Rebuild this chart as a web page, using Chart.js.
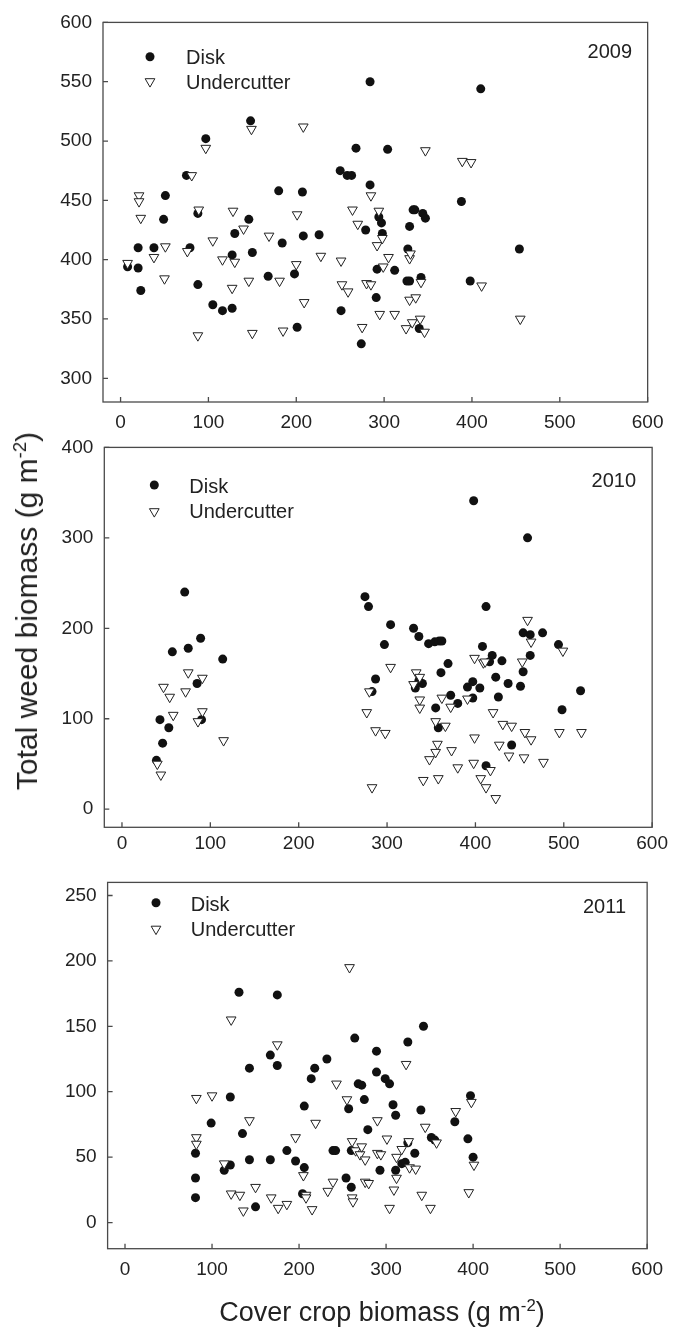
<!DOCTYPE html>
<html><head><meta charset="utf-8">
<script src="https://cdn.jsdelivr.net/npm/chart.js@4.4.1/dist/chart.umd.min.js"></script>
<style>
html,body{margin:0;padding:0;background:#fff;}
body{width:673px;height:1330px;position:relative;overflow:hidden;font-family:"Liberation Sans",Arial,Helvetica,sans-serif;color:#222;}
.panel{position:absolute;left:0;width:673px;}
canvas{display:block;}
.atitle{position:absolute;white-space:nowrap;font-size:27px;line-height:27px;color:#222;z-index:5;}
.atitle .sup{font-size:0.62em;position:relative;top:-0.58em;}
#ytitle{font-size:30px;line-height:30px;}
</style></head><body>
<div class="panel" style="top:0;height:440px"><canvas id="c1" width="673" height="440"></canvas></div>
<div class="panel" style="top:425px;height:455px"><canvas id="c2" width="673" height="455"></canvas></div>
<div class="panel" style="top:860px;height:470px"><canvas id="c3" width="673" height="470"></canvas></div>
<div id="ytitle" class="atitle" style="left:28.5px;top:611px;transform:translate(-50%,-50%) rotate(-90deg);">Total weed biomass (g m<span class="sup">-2</span>)</div>
<div id="xtitle" class="atitle" style="left:382px;top:1299px;transform:translateX(-50%);">Cover crop biomass (g m<span class="sup">-2</span>)</div>
<script>
// ---------------- data ----------------
const xTicks = [0,100,200,300,400,500,600];
const yTicks2009 = [300,350,400,450,500,550,600];
const yTicks2010 = [0,100,200,300,400];
const yTicks2011 = [0,50,100,150,200,250];
const seriesNames = ['Disk','Undercutter'];
const years = ['2009','2010','2011'];

const disk2009 = [[8,394],[20,410],[20,393],[23,374],[38,410],[49,434],[51,454],[75,471],[79,410],[88,439],[88,379],[97,502],[105,362],[116,357],[127,359],[127,404],[130,422],[146,434],[148,517],[150,406],[168,386],[180,458],[184,414],[198,388],[201,343],[207,457],[208,420],[226,421],[250,475],[251,357],[258,471],[263,471],[268,494],[274,329],[279,425],[284,550],[284,463],[291,368],[292,392],[294,436],[297,431],[298,422],[304,493],[312,391],[326,382],[329,382],[327,409],[329,428],[333,442],[335,442],[340,342],[342,385],[344,439],[347,435],[388,449],[398,382],[410,544],[454,409]];
const und2009 = [[8,397],[21,454],[21,449],[23,435],[38,402],[50,384],[51,411],[76,407],[81,471],[88,336],[89,442],[97,494],[105,416],[116,400],[127,376],[128,441],[130,398],[140,426],[146,382],[149,510],[150,338],[169,420],[181,382],[185,340],[200,396],[201,438],[208,512],[209,364],[228,403],[251,399],[252,379],[259,373],[264,442],[270,430],[275,343],[280,380],[285,379],[285,454],[292,412],[294,441],[295,354],[298,418],[299,394],[305,402],[312,354],[325,342],[329,366],[329,401],[330,405],[332,347],[336,368],[341,350],[342,381],[346,339],[347,492],[389,483],[399,482],[411,378],[455,350]];

const disk2010 = [[39,54],[43,99],[46,73],[53,90],[57,174],[71,240],[75,178],[85,139],[89,189],[90,99],[114,166],[275,235],[279,224],[283,130],[287,144],[297,182],[304,204],[330,200],[336,191],[332,134],[336,142],[340,139],[347,183],[354,185],[359,186],[362,186],[355,112],[358,90],[361,151],[369,161],[372,126],[380,117],[391,135],[397,141],[397,123],[398,341],[405,134],[408,180],[412,224],[412,48],[416,163],[419,170],[423,146],[426,124],[430,164],[437,139],[441,71],[451,136],[454,152],[454,195],[459,300],[462,193],[462,170],[476,195],[494,182],[498,110],[519,131]];
const und2010 = [[40,50],[44,38],[47,135],[54,124],[58,104],[72,130],[75,151],[86,97],[91,145],[91,108],[115,76],[277,107],[280,130],[283,24],[287,87],[298,84],[304,157],[330,138],[333,151],[337,146],[337,121],[337,112],[341,32],[348,55],[355,63],[355,97],[357,72],[358,34],[362,123],[366,92],[372,113],[373,65],[380,46],[391,122],[398,51],[399,167],[399,79],[406,34],[409,162],[411,163],[412,24],[417,43],[420,107],[423,12],[427,71],[431,94],[438,59],[441,92],[453,163],[455,57],[456,85],[459,209],[463,185],[463,77],[477,52],[495,85],[499,175],[520,85]];

const disk2011 = [[81,53],[81,34],[81,19],[99,76],[114,40],[121,96],[121,44],[131,176],[135,68],[143,118],[143,48],[150,12],[167,128],[167,48],[175,174],[175,120],[186,55],[196,47],[204,22],[206,89],[206,42],[214,110],[218,118],[232,125],[239,55],[242,55],[254,34],[257,87],[260,55],[260,27],[264,141],[268,106],[272,105],[275,94],[279,71],[289,131],[289,115],[293,40],[299,110],[304,106],[308,90],[311,82],[311,40],[318,45],[322,46],[325,138],[325,61],[333,53],[340,86],[343,150],[352,65],[356,63],[379,77],[394,64],[397,97],[400,50]];
const und2011 = [[82,95],[82,65],[82,60],[100,97],[114,45],[122,155],[122,22],[132,21],[136,9],[143,78],[150,27],[168,19],[175,136],[176,11],[186,14],[196,65],[205,36],[208,21],[208,19],[215,10],[219,76],[233,24],[239,31],[243,106],[255,94],[258,195],[261,62],[261,19],[262,16],[265,55],[270,52],[272,58],[276,48],[276,31],[280,30],[290,78],[290,53],[294,52],[301,64],[304,11],[309,25],[312,50],[312,34],[318,56],[323,121],[326,62],[327,42],[334,41],[341,21],[345,73],[351,11],[358,61],[380,85],[395,23],[398,92],[401,44]];

// ---------------- drawing ----------------
const FONT = '"Liberation Sans", Arial, Helvetica, sans-serif';
const INK = '#222';
const FRAME = '#4a4a4a';

const framePlugin = {
  id: 'frameTicks',
  afterDraw(chart) {
    const ctx = chart.ctx, a = chart.chartArea;
    const xs = chart.scales.x, ys = chart.scales.y;
    ctx.save();
    ctx.strokeStyle = FRAME;
    ctx.lineWidth = 1.3;
    ctx.strokeRect(a.left, a.top, a.right - a.left, a.bottom - a.top);
    ctx.beginPath();
    xs.ticks.forEach(t => {
      const p = xs.getPixelForValue(t.value);
      ctx.moveTo(p, a.bottom); ctx.lineTo(p, a.bottom - 5);
    });
    ys.ticks.forEach(t => {
      const p = ys.getPixelForValue(t.value);
      ctx.moveTo(a.left, p); ctx.lineTo(a.left + 5, p);
    });
    ctx.stroke();
    ctx.restore();
  }
};

const legendPlugin = {
  id: 'panelLegend',
  afterDraw(chart) {
    const o = chart.options.plugins.panelLegend;
    if (!o) return;
    const ctx = chart.ctx;
    ctx.save();
    ctx.font = '20px ' + FONT;
    ctx.fillStyle = INK;
    ctx.textBaseline = 'alphabetic';
    ctx.textAlign = 'right';
    ctx.fillText(o.year, o.yearX, o.yearY);
    ctx.textAlign = 'left';
    const ds = chart.data.datasets;
    ctx.beginPath();
    ctx.fillStyle = ds[0].backgroundColor;
    ctx.arc(o.mx, o.my1, ds[0].pointRadius, 0, Math.PI * 2);
    ctx.fill();
    const r = ds[1].pointRadius;
    ctx.beginPath();
    ctx.moveTo(o.mx - r * Math.sqrt(3) / 2, o.my2 - r / 2);
    ctx.lineTo(o.mx + r * Math.sqrt(3) / 2, o.my2 - r / 2);
    ctx.lineTo(o.mx, o.my2 + r);
    ctx.closePath();
    ctx.fillStyle = '#fff';
    ctx.fill();
    ctx.lineWidth = ds[1].borderWidth;
    ctx.strokeStyle = ds[1].borderColor;
    ctx.stroke();
    ctx.fillStyle = INK;
    ctx.fillText(ds[0].label, o.tx, o.ty1);
    ctx.fillText(ds[1].label, o.tx, o.ty2);
    ctx.restore();
  }
};

function pts(arr) { return arr.map(p => ({x: p[0], y: p[1]})); }

function makeChart(id, disk, und, yTicks, yMin, yMax, g, leg) {
  return new Chart(document.getElementById(id), {
    type: 'scatter',
    data: {
      datasets: [
        {label: seriesNames[0], data: pts(disk), pointStyle: 'circle', pointRadius: 4.5,
         backgroundColor: '#111', borderColor: '#111', borderWidth: 0, order: 1},
        {label: seriesNames[1], data: pts(und), pointStyle: 'triangle', rotation: 180, pointRadius: 5.6,
         backgroundColor: '#fff', borderColor: '#222', borderWidth: 1, order: 0}
      ]
    },
    options: {
      responsive: false, animation: false, devicePixelRatio: 1,
      layout: {padding: {top: g.T, right: g.R, left: 0, bottom: 0}},
      plugins: {legend: {display: false}, tooltip: {enabled: false}, panelLegend: leg},
      scales: {
        x: {
          type: 'linear', min: -20, max: 600,
          grid: {display: false, drawTicks: false}, border: {display: false},
          afterBuildTicks: s => { s.ticks = xTicks.map(v => ({value: v})); },
          afterFit: s => { s.height = g.xH; },
          ticks: {font: {family: FONT, size: 19}, color: INK, padding: g.xPad, maxRotation: 0, autoSkip: false}
        },
        y: {
          type: 'linear', min: yMin, max: yMax,
          grid: {display: false, drawTicks: false}, border: {display: false},
          afterBuildTicks: s => { s.ticks = yTicks.map(v => ({value: v})); },
          afterFit: s => { s.width = g.L; },
          ticks: {font: {family: FONT, size: 19}, color: INK, padding: 11, autoSkip: false}
        }
      }
    },
    plugins: [framePlugin, legendPlugin]
  });
}

makeChart('c1', disk2009, und2009, yTicks2009, 280, 600,
  {T: 19, R: 20, L: 103, xH: 38, xPad: 9.5},
  {year: years[0], yearX: 632, yearY: 58, mx: 150, my1: 56.7, my2: 81.5, tx: 186, ty1: 64, ty2: 89});
makeChart('c2', disk2010, und2010, yTicks2010, -20, 400,
  {T: 18.7, R: 19, L: 104.3, xH: 52.7, xPad: 5},
  {year: years[1], yearX: 636, yearY: 487 - 425, mx: 154.3, my1: 485 - 425, my2: 511.5 - 425, tx: 189.3, ty1: 493 - 425, ty2: 518 - 425});
makeChart('c3', disk2011, und2011, yTicks2011, -20, 260,
  {T: 18.5, R: 16, L: 107.6, xH: 81.3, xPad: 10},
  {year: years[2], yearX: 626, yearY: 913 - 860, mx: 156, my1: 902.7 - 860, my2: 929 - 860, tx: 190.7, ty1: 911 - 860, ty2: 936 - 860});
</script>
</body></html>
